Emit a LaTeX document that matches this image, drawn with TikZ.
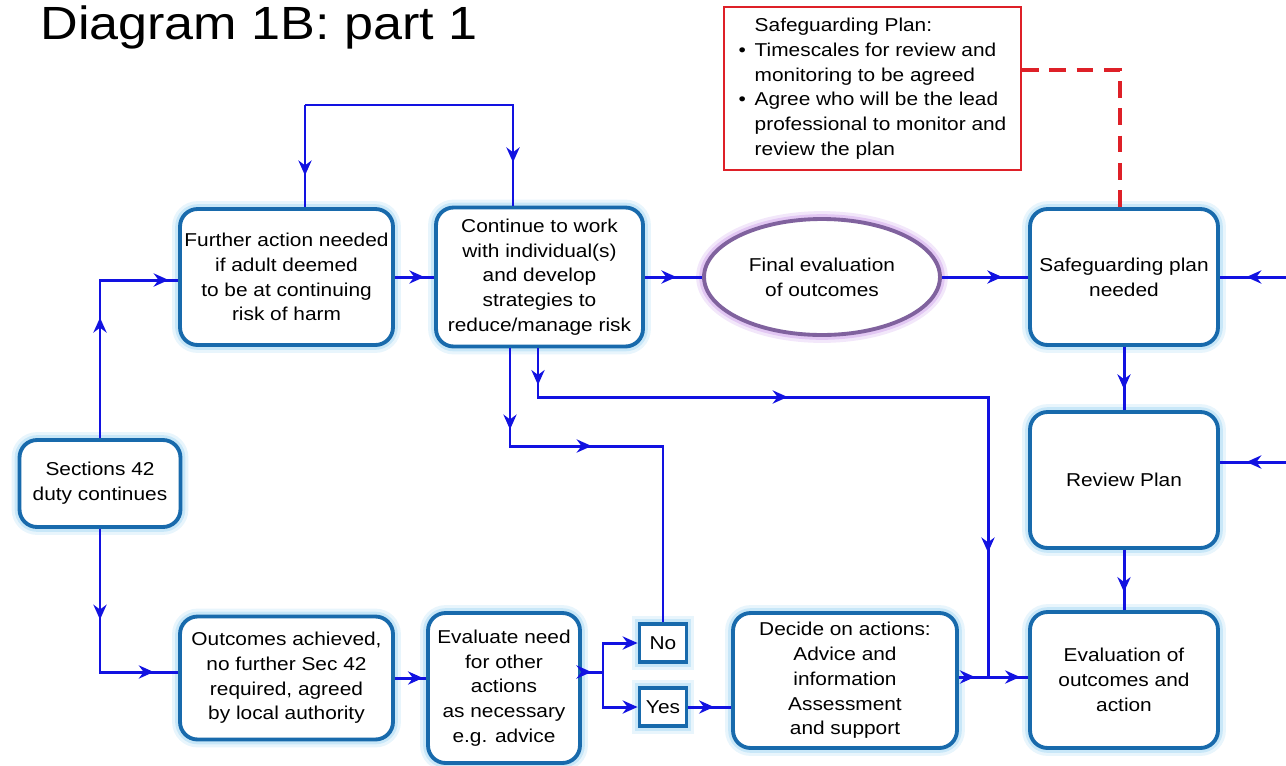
\documentclass[tikz,border=0pt]{standalone}
\usepackage{xcolor}
\usepackage{fontspec}
\setmainfont[FakeStretch=1.12]{Liberation Sans}
\usetikzlibrary{shapes.geometric,arrows.meta,decorations.markings}

\definecolor{flowblue}{RGB}{18,18,225}
\definecolor{boxblue}{RGB}{24,106,172}
\definecolor{boxglow}{RGB}{140,205,240}
\definecolor{ovalpurple}{RGB}{128,98,158}
\definecolor{ovalglow}{RGB}{205,160,235}
\definecolor{notered}{RGB}{222,32,40}

\tikzset{
  boxtext/.style={font=\fontsize{10.6}{14.1}\selectfont, align=center, inner sep=0pt},
  flowbox/.style={boxtext, draw=boxblue, line width=2.2pt, fill=white, rounded corners=10pt,
    preaction={draw=boxglow, opacity=0.2, line width=9pt},
    preaction={draw=boxglow, opacity=0.35, line width=5.5pt}},
  answerbox/.style={flowbox, sharp corners, minimum width=0.94cm, minimum height=0.76cm},
  evaloval/.style={boxtext, ellipse, draw=ovalpurple, line width=2.2pt, fill=white,
    preaction={draw=ovalglow, opacity=0.25, line width=9pt},
    preaction={draw=ovalglow, opacity=0.45, line width=5.5pt}},
  notebox/.style={boxtext, draw=notered, line width=1.4pt, fill=white},
  flowline/.style={draw=flowblue, line width=1.7pt},
  arrowat/.style={postaction={decorate, decoration={markings,
    mark=at position #1 with {\arrow{Stealth[length=8.5pt,width=7.5pt]}}}}},
  intobox/.style={-{Stealth[length=8.5pt,width=7.5pt]}},
  dashlink/.style={draw=notered, line width=1.8pt, dash pattern=on 9.5pt off 6pt},
}

\begin{document}
\begin{tikzpicture}[x=0.02cm, y=-0.02cm]
    \useasboundingbox (0,0) rectangle (1286,765);

    \node[boxtext, anchor=base west, font=\fontsize{26.5}{30}\selectfont] (title) at (40,39) {Diagram 1B: part 1};

    \node[notebox, minimum width=5.94cm, minimum height=3.26cm] (sgnote) at (872.5,88.5) {%
      \begin{tabular}{@{}l@{\hspace{5pt}}l@{}}
        & Safeguarding Plan:\\
        \textbullet & Timescales for review and\\
        & monitoring to be agreed\\
        \textbullet & Agree who will be the lead\\
        & professional to monitor and\\
        & review the plan
      \end{tabular}};

    \node[flowbox, minimum width=3.22cm, minimum height=1.74cm] (s42) at (100,483.5) {Sections 42\\duty continues};
    \node[flowbox, minimum width=4.26cm, minimum height=2.72cm] (further) at (286.5,277) {Further action needed\\if adult deemed\\to be at continuing\\risk of harm};
    \node[flowbox, minimum width=4.14cm, minimum height=2.78cm] (cont) at (539.5,277) {Continue to work\\with individual(s)\\and develop\\strategies to\\reduce/manage risk};
    \node[evaloval, minimum width=4.72cm, minimum height=2.32cm] (finaleval) at (822,277) {Final evaluation\\of outcomes};
    \node[flowbox, minimum width=3.76cm, minimum height=2.72cm] (sgplan) at (1124,277) {Safeguarding plan\\needed};
    \node[flowbox, minimum width=3.76cm, minimum height=2.72cm] (review) at (1124,480) {Review Plan};
    \node[flowbox, minimum width=3.76cm, minimum height=2.72cm] (evalout) at (1124,680) {Evaluation of\\outcomes and\\action};
    \node[flowbox, minimum width=4.26cm, minimum height=2.46cm] (outcomes) at (286.5,678) {Outcomes achieved,\\no further Sec 42\\required, agreed\\by local authority};
    \node[flowbox, minimum width=3.04cm, minimum height=3.0cm] (evalneed) at (504,688) {Evaluate need\\for other\\actions\\as necessary\\e.g. advice};
    \node[answerbox] (no) at (663,643) {No};
    \node[answerbox] (yes) at (663,707) {Yes};
    \node[flowbox, minimum width=4.48cm, minimum height=2.7cm] (decide) at (845,680.5) {Decide on actions:\\Advice and\\information\\Assessment\\and support};

    \coordinate (leftup) at (100,280);
    \coordinate (leftdown) at (100,672);
    \coordinate (loopl) at (305,105);
    \coordinate (loopr) at (513,105);
    \coordinate (riskr) at (538,397);
    \coordinate (riskrr) at (988,397);
    \coordinate (join) at (988,677);
    \coordinate (riskl) at (510,446);
    \coordinate (riskll) at (663,446);
    \coordinate (split) at (603,672);
    \coordinate (parttwoa) at (1286,277);
    \coordinate (parttwob) at (1286,462);
    \coordinate (dashbend) at (1120,70);

    \draw[flowline, arrowat=0.51, arrowat=0.96] (s42.north) -- (leftup) -- (further.west |- leftup);
    \draw[flowline, arrowat=0.41, arrowat=0.89] (s42.south) -- (leftdown) -- (outcomes.west |- leftdown);
    \draw[flowline, arrowat=0.75] (further.east) -- (cont.west);
    \draw[flowline, arrowat=0.69] (loopl) -- (loopl |- further.north);
    \draw[flowline, arrowat=0.86] (loopl) -- (loopr) -- (loopr |- cont.north);
    \draw[flowline, arrowat=0.55] (cont.east) -- (finaleval.west);
    \draw[flowline, arrowat=0.7] (finaleval.east) -- (sgplan.west);
    \draw[flowline, arrowat=0.6] (parttwoa) -- (parttwoa -| sgplan.east);
    \draw[flowline, arrowat=0.6] (parttwob) -- (parttwob -| review.east);
    \draw[flowline, arrowat=0.67] (sgplan.south) -- (review.north);
    \draw[flowline, arrowat=0.7] (review.south) -- (evalout.north);
    \draw[flowline, arrowat=0.047, arrowat=0.383, arrowat=0.84] (riskr |- cont.south) -- (riskr) -- (riskrr) -- (join);
    \draw[flowline, arrowat=0.19, arrowat=0.42] (riskl |- cont.south) -- (riskl) -- (riskll) -- (no.north);
    \draw[flowline, arrowat=0.9] (outcomes.east) -- (outcomes.east -| evalneed.west);
    \draw[flowline, arrowat=0.45] (evalneed.east |- split) -- (split);
    \draw[flowline, intobox] (split) -- (split |- no) -- (no.west);
    \draw[flowline, intobox] (split) -- (split |- yes) -- (yes.west);
    \draw[flowline, arrowat=0.6] (yes.east) -- (yes.east -| decide.west);
    \draw[flowline, arrowat=0.55] (decide.east |- join) -- (join);
    \draw[flowline, arrowat=0.8] (join) -- (join -| evalout.west);
    \draw[dashlink] (sgnote.east |- dashbend) -- (dashbend) -- (dashbend |- sgplan.north);
\end{tikzpicture}
\end{document}
